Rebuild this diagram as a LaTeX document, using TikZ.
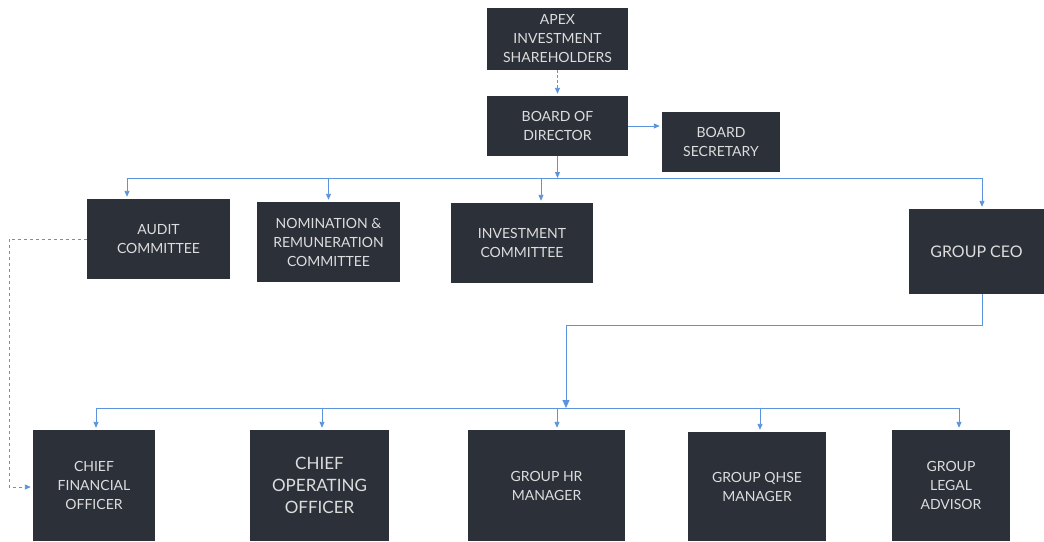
\documentclass[tikz,border=0pt]{standalone}
\usepackage{fontspec}
\setmainfont{Lato}
\usetikzlibrary{arrows.meta}
\definecolor{boxfill}{HTML}{2B3039}
\definecolor{boxtext}{HTML}{DDDDDD}
\definecolor{linkblue}{HTML}{5B93DD}

\begin{document}
\begin{tikzpicture}[x=1pt,y=-1pt,
  orgbox/.style={fill=boxfill,text=boxtext,align=center,inner sep=0pt,font=\fontsize{14}{19}\selectfont},
  link/.style={draw=linkblue,line width=0.9pt},
  tip/.style={-{Triangle[length=6pt,width=5pt]},shorten >=2pt},
  bigtip/.style={-{Triangle[length=8pt,width=7pt]}}]
\useasboundingbox (0,0) rectangle (1044,541);

\node[orgbox,minimum width=141pt,minimum height=62pt] (apex) at (557.5,39) {APEX\\INVESTMENT\\SHAREHOLDERS};
\node[orgbox,minimum width=141pt,minimum height=60pt] (board) at (557.5,126) {BOARD OF\\DIRECTOR};
\node[orgbox,minimum width=118pt,minimum height=60pt] (secretary) at (721,142) {BOARD\\SECRETARY};

\node[orgbox,minimum width=143pt,minimum height=80pt] (audit) at (158.5,239) {AUDIT\\COMMITTEE};
\node[orgbox,minimum width=143pt,minimum height=80pt] (nomination) at (328.5,242) {NOMINATION \&\\REMUNERATION\\COMMITTEE};
\node[orgbox,minimum width=142pt,minimum height=80pt] (investment) at (522,243) {INVESTMENT\\COMMITTEE};
\node[orgbox,minimum width=135pt,minimum height=85pt,font=\fontsize{16}{20}\selectfont] (ceo) at (976.5,251.5) {GROUP CEO};

\node[orgbox,minimum width=122pt,minimum height=111pt] (cfo) at (94,485.5) {CHIEF\\FINANCIAL\\OFFICER};
\node[orgbox,minimum width=139pt,minimum height=111pt,font=\fontsize{17}{22}\selectfont] (coo) at (319.5,485.5) {CHIEF\\OPERATING\\OFFICER};
\node[orgbox,minimum width=157pt,minimum height=111pt] (hr) at (546.5,485.5) {GROUP HR\\MANAGER};
\node[orgbox,minimum width=138pt,minimum height=109pt] (qhse) at (757,486.5) {GROUP QHSE\\MANAGER};
\node[orgbox,minimum width=118pt,minimum height=111pt] (legal) at (951,485.5) {GROUP\\LEGAL\\ADVISOR};

\coordinate (topbus) at (557.5,178);
\coordinate (busL) at (127,178);
\coordinate (busR) at (982,178);
\coordinate (invtap) at (541,178);
\coordinate (ceoturn) at (982,325);
\coordinate (hrturn) at (566,325);
\coordinate (hrdrop) at (566,408);
\coordinate (botL) at (96,408);
\coordinate (cootap) at (322,408);
\coordinate (hrtap) at (557,408);
\coordinate (qhsetap) at (760,408);
\coordinate (botR) at (959,408);
\coordinate (auditL) at (9,239);
\coordinate (cfoL) at (9,487);

\draw[link,tip,densely dashed] (apex) -- (board);
\draw[link,tip,shorten >=0pt] (board) -- (topbus);
\draw[link,tip] (board.east) -- (board.east -| secretary.west);
\draw[link] (busL) -- (busR);
\draw[link,tip] (busL) -- (busL |- audit.north);
\draw[link,tip] (nomination.north |- busL) -- (nomination);
\draw[link,tip] (invtap) -- (invtap |- investment.north);
\draw[link,tip] (busR) -- (busR |- ceo.north);

\draw[link,bigtip] (ceo.south -| ceoturn) -- (ceoturn) -- (hrturn) -- (hrdrop);
\draw[link] (botL) -- (botR);
\draw[link,tip] (botL) -- (botL |- cfo.north);
\draw[link,tip] (cootap) -- (cootap |- coo.north);
\draw[link,tip] (hrtap) -- (hrtap |- hr.north);
\draw[link,tip] (qhsetap) -- (qhsetap |- qhse.north);
\draw[link,tip] (botR) -- (botR |- legal.north);

\draw[link,tip,dash pattern=on 3pt off 3pt] (audit.west) -- (auditL) -- (cfoL) -- (cfoL -| cfo.west);
\end{tikzpicture}
\end{document}
